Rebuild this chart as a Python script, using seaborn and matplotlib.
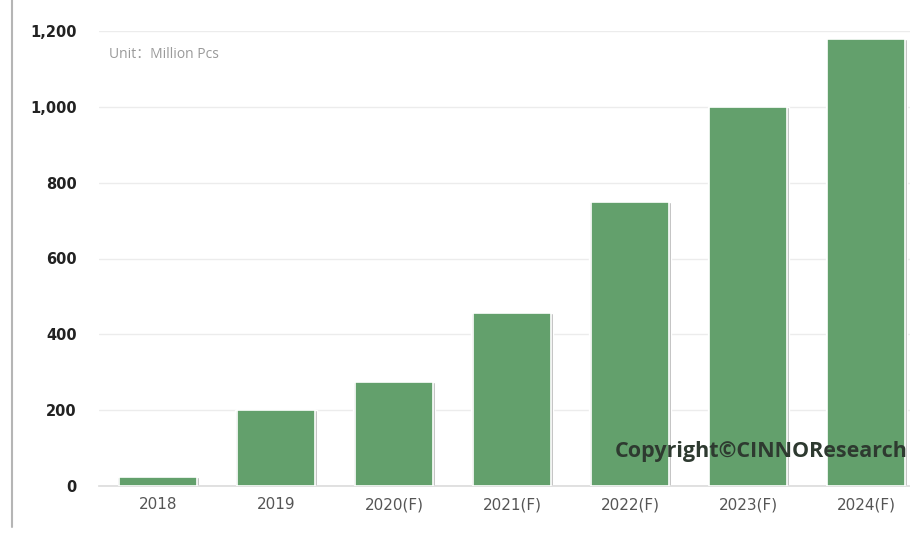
import matplotlib
matplotlib.use("Agg")
import matplotlib.pyplot as plt
import seaborn as sns
import pandas as pd
from matplotlib.lines import Line2D

categories = ["2018", "2019", "2020(F)", "2021(F)", "2022(F)", "2023(F)", "2024(F)"]
values = [25, 200, 275, 455, 750, 1000, 1180]
yticks = [0, 200, 400, 600, 800, 1000, 1200]
ytick_labels = ["0", "200", "400", "600", "800", "1,000", "1,200"]

df = pd.DataFrame({"year": categories, "value": values})

sns.set_theme(style="white")
plt.rcParams["font.family"] = ["DejaVu Sans", "Noto Sans CJK SC"]

fig = plt.figure(figsize=(9.1, 5.39), dpi=100)
ax = fig.add_axes([99 / 910, 1 - 486 / 539, 1 - 99 / 910, (486 - 31) / 539])

# shadow bars
sns.barplot(data=df, x="year", y="value", ax=ax, color="#b8b8b8", width=0.69,
            saturation=1, zorder=2)
sns.barplot(data=df, x="year", y="value", ax=ax, color="#63a06c", width=0.66,
            saturation=1, edgecolor="white", linewidth=1.2, zorder=3)

ax.set_ylim(0, 1200)
ax.set_xlim(-0.5, 6.37)
ax.set_yticks(yticks)
ax.set_yticklabels(ytick_labels)
for lab in ax.get_yticklabels():
    lab.set_fontweight("bold")
    lab.set_color("#222222")
    lab.set_fontsize(10.5)
for lab in ax.get_xticklabels():
    lab.set_color("#555555")
    lab.set_fontsize(11)
ax.tick_params(axis="y", pad=16, length=0)
ax.tick_params(axis="x", pad=8, length=0)
ax.set_xlabel("")
ax.set_ylabel("")
ax.yaxis.grid(True, color="#ececec", linewidth=1.0, zorder=0)
ax.set_axisbelow(True)
for s in ["top", "right", "left"]:
    ax.spines[s].set_visible(False)
ax.spines["bottom"].set_color("#dddddd")

ax.text(0.012, 0.965, "Unit：Million Pcs", transform=ax.transAxes, color="#9a9a9a",
        fontsize=10, va="top", ha="left", family=["Open Sans", "Noto Sans CJK SC"])

fig.text(615 / 910, 1 - 452 / 539, "Copyright©CINNOResearch", color="#2e3a30",
         fontsize=15.5, fontweight="bold", va="center", ha="left", zorder=10,
         family=["Open Sans", "DejaVu Sans"])

fig.add_artist(Line2D([12 / 910, 12 / 910], [1 - 527 / 539, 1.0],
                      transform=fig.transFigure, color="#b5b5b5", linewidth=1.5))

fig.savefig("out.png", dpi=100)
